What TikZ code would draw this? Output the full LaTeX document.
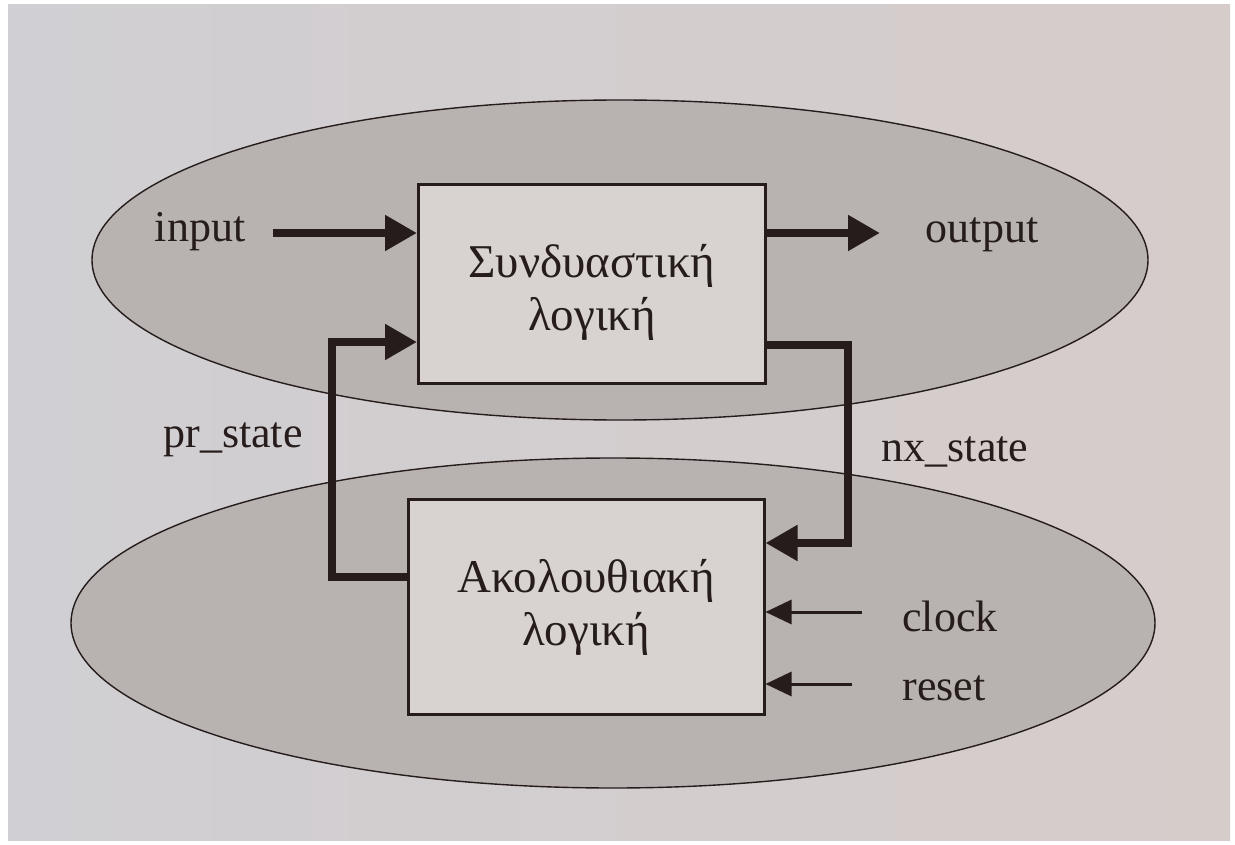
\documentclass[tikz,border=0pt]{standalone}
\usepackage{fontspec}
\setmainfont{Liberation Serif}
\usetikzlibrary{arrows.meta}
\definecolor{paperL}{RGB}{208,207,211}
\definecolor{paperR}{RGB}{214,204,202}
\definecolor{zone}{RGB}{184,178,177}
\definecolor{boxfill}{RGB}{216,211,209}
\definecolor{ink}{RGB}{38,28,28}
\tikzset{
  zonestyle/.style={draw=ink, line width=1.4pt, fill=zone},
  block/.style={draw=ink, line width=3pt, fill=boxfill, inner sep=0pt},
  blocktext/.style={align=center, inner sep=0pt, text=ink,
    font=\fontsize{47}{53}\selectfont},
  lbl/.style={font=\fontsize{44}{50}\selectfont, inner sep=0pt, text=ink},
  bus/.style={draw=ink, line width=8pt, line join=miter,
    -{Triangle[length=32pt,width=34pt]}},
  wire/.style={draw=ink, line width=3pt,
    -{Triangle[length=26pt,width=24pt]}}
}
\begin{document}
\begin{tikzpicture}[x=1pt,y=-1pt]
% page
\useasboundingbox (0,0) rectangle (1235,845);
\fill[white] (0,0) rectangle (1235,845);
\shade[left color=paperL, right color=paperR] (8,5) rectangle (1230,840);

% the two regions
\draw[zonestyle] (620,260) ellipse [x radius=528, y radius=160];
\draw[zonestyle] (613,623) ellipse [x radius=542, y radius=165];

% blocks
\node[block, minimum width=347pt, minimum height=199pt,
  label={[blocktext, yshift=-8pt]center:Συνδυαστική\\λογική}] (comb) at (592,284) {};
\node[block, minimum width=356pt, minimum height=215pt,
  label={[blocktext]center:Ακολουθιακή\\λογική}] (seq) at (586,607) {};

% signal labels
\node[lbl] (in)  at (200,232) {input};
\node[lbl] (out) at (982,235) {output};
\node[lbl] (prs) at (233,440) {pr\_state};
\node[lbl] (nxs) at (955,452) {nx\_state};
\node[lbl] (clk) at (950,616) {clock};
\node[lbl] (rst) at (944,688) {reset};

% free ends and feedback corners
\coordinate (inpt)  at (273,233);
\coordinate (outpt) at (880,233);
\coordinate (clkpt) at (862,612);
\coordinate (rstpt) at (852,684);
\coordinate (prc) at (332,342);
\coordinate (nxc) at (848,543);

% connectors
\draw[bus] (inpt) -- (comb.west |- inpt);
\draw[bus] (comb.east |- outpt) -- (outpt);
\draw[bus] ([yshift=30pt]seq.west) -| (prc) -- (comb.west |- prc);
\draw[bus] ([yshift=-61pt]comb.east) -| (nxc) -- (seq.east |- nxc);
\draw[wire] (clkpt) -- (seq.east |- clkpt);
\draw[wire] (rstpt) -- (seq.east |- rstpt);
\end{tikzpicture}
\end{document}
